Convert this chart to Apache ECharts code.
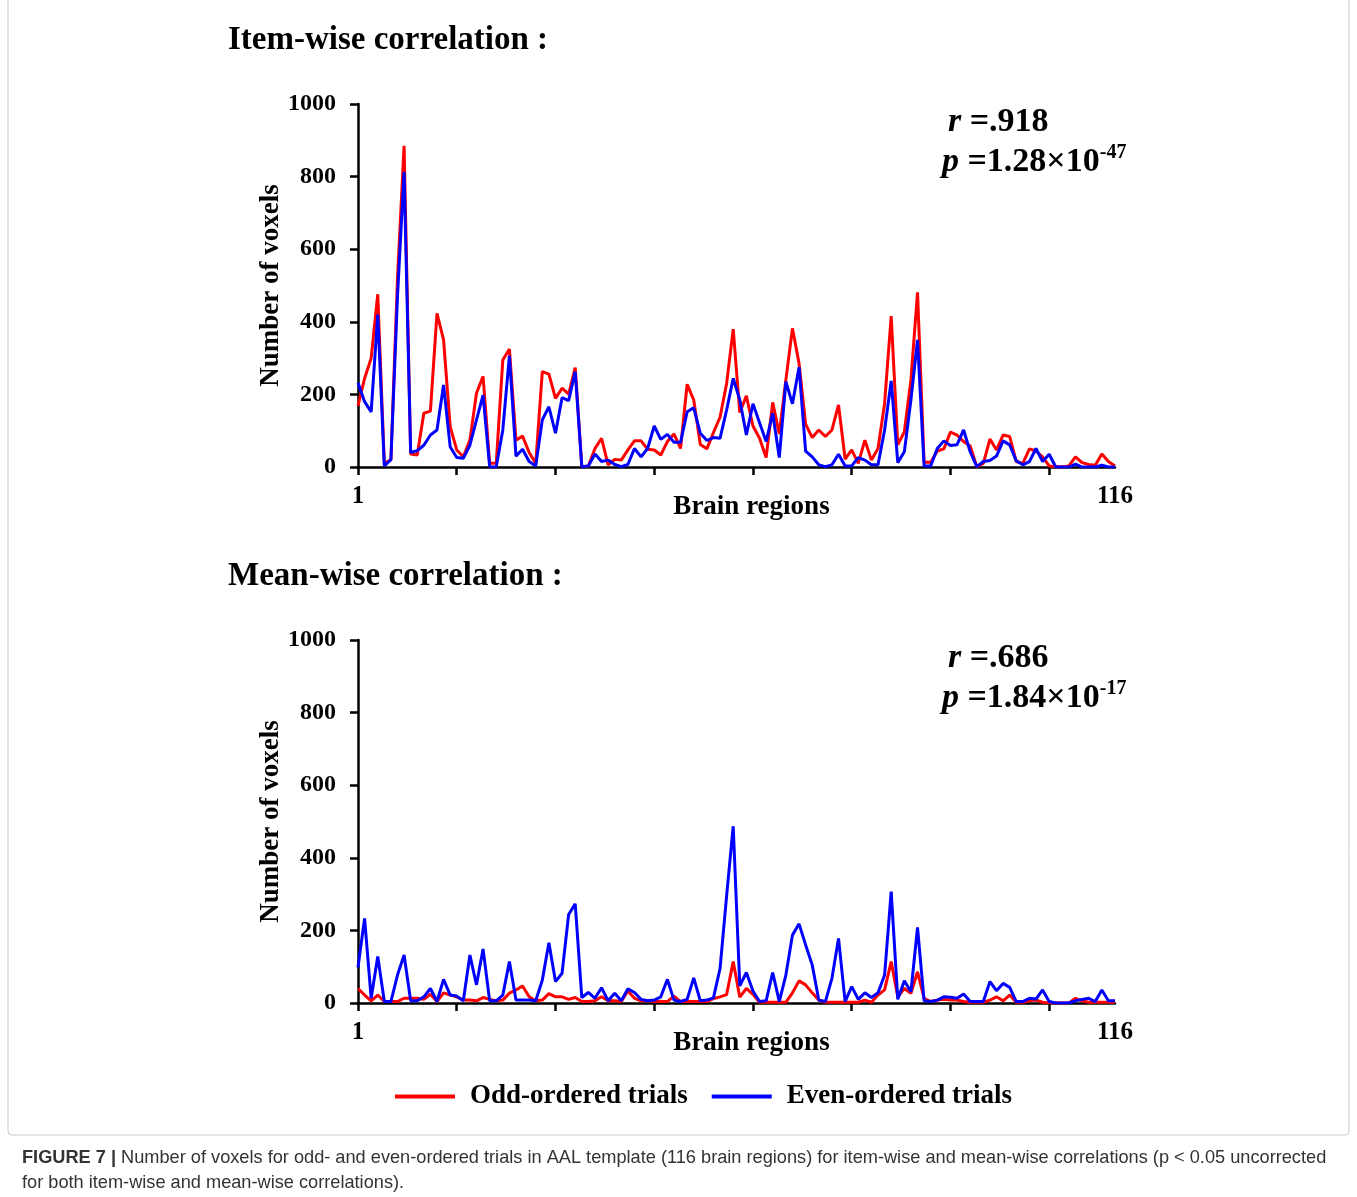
<!DOCTYPE html>
<html>
<head>
<meta charset="utf-8">
<title>Figure 7</title>
<script src="https://cdn.jsdelivr.net/npm/echarts@6/dist/echarts.min.js"></script>
<style>
  html, body { margin: 0; padding: 0; background: #fff; }
  #chart { width: 1357px; height: 1197px; }
</style>
</head>
<body>
<div id="chart"></div>
<script>
// regions 1..116 of the AAL template
const regions = Array.from({ length: 116 }, (_, i) => String(i + 1));
const shownRegionLabels = ['1', '116'];

// item-wise correlation
const itemOdd = [
  168, 244, 300, 476, 10, 20, 520, 885, 36, 33,
  148, 154, 423, 350, 111, 47, 28, 74, 203, 250,
  10, 10, 295, 325, 74, 85, 40, 10, 263, 256,
  189, 217, 201, 274, 1, 3, 51, 79, 6, 21,
  19, 47, 72, 72, 49, 47, 33, 70, 91, 51,
  228, 185, 62, 50, 95, 137, 230, 380, 150, 196,
  113, 79, 26, 178, 91, 240, 382, 286, 118, 81,
  102, 84, 102, 171, 22, 47, 10, 74, 19, 51,
  175, 416, 61, 97, 240, 481, 13, 13, 44, 50,
  96, 88, 70, 58, 1, 10, 77, 47, 88, 84,
  15, 10, 50, 44, 28, 3, 1, 1, 3, 28,
  12, 7, 5, 36, 15, 3
];
const itemEven = [
  232, 180, 152, 420, 3, 20, 470, 813, 40, 45,
  60, 88, 102, 226, 56, 26, 24, 60, 130, 198,
  1, 0, 102, 306, 30, 49, 15, 3, 130, 166,
  93, 191, 183, 263, 1, 3, 36, 15, 19, 7,
  1, 7, 51, 28, 51, 113, 76, 90, 68, 68,
  152, 163, 93, 73, 81, 79, 157, 244, 185, 88,
  174, 122, 70, 148, 26, 235, 174, 275, 44, 28,
  6, 1, 6, 35, 3, 3, 26, 19, 6, 6,
  102, 237, 12, 42, 185, 350, 3, 3, 51, 72,
  59, 61, 102, 42, 1, 15, 18, 30, 72, 61,
  17, 6, 15, 51, 15, 35, 0, 0, 0, 8,
  0, 0, 0, 5, 0, 0
];

// mean-wise correlation
const meanOdd = [
  40, 22, 6, 22, 4, 4, 4, 13, 13, 13,
  10, 24, 4, 28, 22, 17, 8, 8, 6, 15,
  10, 6, 8, 27, 36, 47, 17, 6, 8, 26,
  17, 17, 10, 15, 4, 4, 6, 17, 6, 6,
  4, 33, 13, 6, 6, 4, 4, 4, 19, 4,
  4, 4, 4, 4, 12, 17, 23, 114, 16, 40,
  24, 2, 2, 2, 2, 2, 28, 61, 50, 28,
  8, 2, 2, 2, 2, 2, 2, 8, 2, 22,
  36, 114, 17, 40, 27, 86, 13, 4, 8, 10,
  8, 8, 4, 2, 2, 2, 8, 17, 6, 22,
  2, 2, 6, 8, 2, 0, 0, 0, 0, 13,
  6, 2, 2, 2, 2, 2
];
const meanEven = [
  98, 233, 13, 128, 4, 4, 77, 132, 6, 6,
  17, 40, 4, 65, 22, 19, 6, 132, 50, 149,
  6, 6, 22, 114, 8, 8, 8, 6, 63, 166,
  59, 82, 244, 273, 15, 29, 13, 42, 6, 27,
  6, 39, 29, 10, 6, 8, 17, 65, 8, 4,
  10, 69, 6, 8, 14, 95, 295, 487, 47, 84,
  33, 4, 6, 84, 4, 77, 187, 218, 160, 105,
  8, 4, 68, 178, 4, 45, 10, 28, 15, 28,
  77, 307, 10, 61, 31, 208, 6, 4, 8, 17,
  16, 13, 25, 4, 4, 4, 59, 34, 54, 43,
  4, 4, 13, 11, 36, 4, 0, 0, 0, 6,
  10, 13, 4, 36, 6, 6
];

const serif = 'Liberation Serif';
const ink = '#000';
const oddColor = '#ff0000';
const evenColor = '#0000ff';

const chart = echarts.init(document.getElementById('chart'));

const xAxisFor = (gridIndex) => ({
  type: 'category',
  gridIndex,
  data: regions,
  boundaryGap: false,
  name: 'Brain regions',
  nameLocation: 'middle',
  nameGap: 27,
  nameMoveOverlap: false,
  nameTextStyle: { fontFamily: serif, fontWeight: 'bold', fontSize: 27, color: ink, padding: [0, 0, 0, 30] },
  axisLine: { lineStyle: { color: ink, width: 2.5 } },
  axisTick: {
    show: true,
    length: 8,
    interval: (index) => index % 15 === 0,
    lineStyle: { color: ink, width: 2.5 }
  },
  axisLabel: {
    interval: (index, value) => shownRegionLabels.includes(value),
    margin: 17,
    fontFamily: serif,
    fontWeight: 'bold',
    fontSize: 25,
    color: ink
  },
  splitLine: { show: false }
});

const yAxisFor = (gridIndex) => ({
  type: 'value',
  gridIndex,
  min: 0,
  max: 1000,
  interval: 200,
  name: 'Number of voxels',
  nameLocation: 'middle',
  nameRotate: 90,
  nameGap: 73,
  nameMoveOverlap: false,
  nameTextStyle: { fontFamily: serif, fontWeight: 'bold', fontSize: 27, color: ink },
  axisLine: { show: true, lineStyle: { color: ink, width: 2.5 } },
  axisTick: { show: true, length: 8, lineStyle: { color: ink, width: 2.5 } },
  axisLabel: {
    margin: 22,
    formatter: (v) => String(v),
    fontFamily: serif,
    fontWeight: 'bold',
    fontSize: 24,
    color: ink
  },
  splitLine: { show: false }
});

const lineSeries = (name, data, color, index) => ({
  name,
  type: 'line',
  xAxisIndex: index,
  yAxisIndex: index,
  data,
  symbol: 'none',
  color,
  lineStyle: { color, width: 3 },
  itemStyle: { color }
});

const statStyle = {
  fontFamily: serif,
  fontWeight: 'bold',
  fontSize: 34,
  color: ink,
  rich: {
    i: { fontFamily: serif, fontWeight: 'bold', fontStyle: 'italic', fontSize: 34, color: ink },
    sup: { fontFamily: serif, fontWeight: 'bold', fontSize: 20, color: ink, verticalAlign: 'top', lineHeight: 38 }
  }
};

const headStyle = { fontFamily: serif, fontWeight: 'bold', fontSize: 33, color: ink };

chart.setOption({
  animation: false,
  backgroundColor: '#fff',
  title: [
    { text: 'Item-wise correlation :', left: 223, top: 19, textStyle: headStyle },
    { text: 'Mean-wise correlation :', left: 223, top: 555, textStyle: headStyle },
    { text: '{i|r} =.918', left: 943, top: 100, textStyle: statStyle },
    { text: '{i|p} =1.28×10{sup|-47}', left: 937, top: 138, textStyle: statStyle },
    { text: '{i|r} =.686', left: 943, top: 636, textStyle: statStyle },
    { text: '{i|p} =1.84×10{sup|-17}', left: 937, top: 674, textStyle: statStyle }
  ],
  legend: {
    data: ['Odd-ordered trials', 'Even-ordered trials'],
    left: 395,
    top: 1083,
    padding: 0,
    icon: 'rect',
    itemWidth: 60,
    itemHeight: 4,
    itemGap: 24,
    textStyle: { fontFamily: serif, fontWeight: 'bold', fontSize: 27, color: ink, padding: [0, 0, 0, 10] }
  },
  grid: [
    { left: 358, right: 242, top: 104, height: 363 },
    { left: 358, right: 242, top: 640, height: 363 }
  ],
  xAxis: [xAxisFor(0), xAxisFor(1)],
  yAxis: [yAxisFor(0), yAxisFor(1)],
  series: [
    lineSeries('Odd-ordered trials', itemOdd, oddColor, 0),
    lineSeries('Even-ordered trials', itemEven, evenColor, 0),
    lineSeries('Odd-ordered trials', meanOdd, oddColor, 1),
    lineSeries('Even-ordered trials', meanEven, evenColor, 1)
  ],
  graphic: [
    {
      type: 'rect',
      shape: { x: 8, y: -4, width: 1341, height: 1139, r: 4 },
      style: { fill: 'none', stroke: '#c8c8c8', lineWidth: 1 },
      silent: true
    },
    {
      type: 'text',
      left: 22,
      top: 1145,
      style: {
        text: '{b|FIGURE 7 |} Number of voxels for odd- and even-ordered trials in AAL template (116 brain regions) for item-wise and mean-wise correlations (p < 0.05 uncorrected\nfor both item-wise and mean-wise correlations).',
        fontFamily: 'Liberation Sans',
        fontSize: 18.2,
        lineHeight: 25,
        fill: '#333',
        rich: {
          b: { fontFamily: 'Liberation Sans', fontWeight: 'bold', fontSize: 18.2, lineHeight: 25, fill: '#333' }
        }
      }
    }
  ]
});

window.addEventListener('resize', () => chart.resize());
</script>
</body>
</html>
